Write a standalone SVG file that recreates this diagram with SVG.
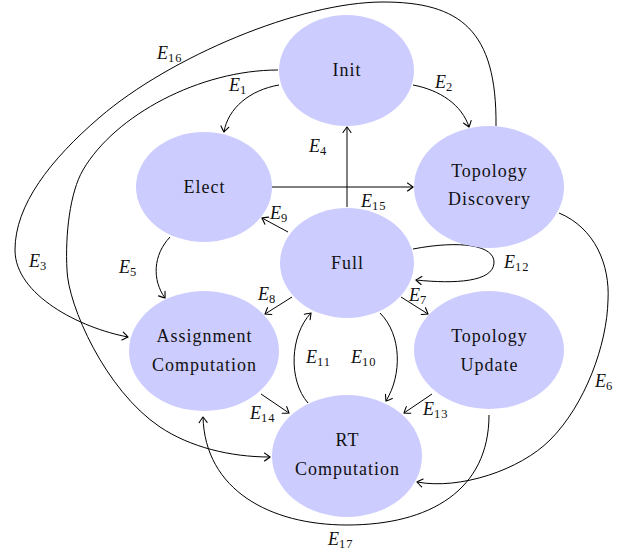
<svg xmlns="http://www.w3.org/2000/svg" width="635" height="555" viewBox="0 0 635 555">
<defs>
<marker id="arr" viewBox="-8 -6 10 12" markerWidth="10" markerHeight="12" refX="0" refY="0" orient="auto" markerUnits="userSpaceOnUse" overflow="visible">
<path d="M-5.5,-4 Q-1.2,-1 0,0 Q-1.2,1 -5.5,4" fill="none" stroke="#000" stroke-width="1.1" stroke-linecap="round"/>
</marker>
<style>
.node{fill:#ccccff;stroke:none}
.nt{font-size:18px;letter-spacing:1px;text-anchor:middle;fill:#111}
.e{fill:none;stroke:#000;stroke-width:1}
.ea{fill:none;stroke:#000;stroke-width:1;marker-end:url(#arr)}
.lbl{font-size:18px;font-style:italic;fill:#111}
.sub{font-size:12.5px;font-style:normal;letter-spacing:1px}
</style>
</defs>
<rect width="635" height="555" fill="#fff"/>
<g id="connectors" font-family="'Liberation Serif', 'DejaVu Serif', serif">
<path id="E1" class="ea" d="M279,85 C250,90 228,108 224,132"/>
<path id="E2" class="ea" d="M413,85 C440,90 462,105 469,127"/>
<path id="E3" class="ea" d="M278,70 C200,70 115,115 83,170 C70,192 65,235 67,270 C68,305 105,390 160,427 C190,447 230,457 270,457"/>
<path id="E4" class="ea" d="M347,207 L347,127"/>
<path id="E5" class="ea" d="M170,237 C153,255 152,280 165,298"/>
<path id="E6" class="ea" d="M559,213 C595,228 610,265 608,300 C607,345 585,405 550,440 C520,470 460,490 417,482"/>
<path id="E7" class="ea" d="M401,297 L428,314"/>
<path id="E8" class="ea" d="M292,297 L265,314"/>
<path id="E9" class="ea" d="M288,232 L262,218"/>
<path id="E10" class="ea" d="M380,313 C402,335 402,375 386,401"/>
<path id="E11" class="ea" d="M308,403 C288,380 290,335 311,313"/>
<path id="E12" class="ea" d="M413,249 C460,240 495,245 494,263 C493,282 455,284 416,280"/>
<path id="E13" class="ea" d="M432,394 L404,413"/>
<path id="E14" class="ea" d="M261,394 L289,413"/>
<path id="E15" class="ea" d="M272,187 L413,187"/>
<path id="E16" class="ea" d="M496,126 C497,30 460,2 383,2 C300,2 170,57 100,117 C50,160 15,205 15,250 C15,295 80,328 128,337"/>
<path id="E17" class="ea" d="M489,415 C489,490 430,525 347,525 C270,525 205,490 203,417"/>
<g id="edge-labels">
<text class="lbl" x="229" y="91">E<tspan class="sub" dy="3">1</tspan></text>
<text class="lbl" x="435" y="88">E<tspan class="sub" dy="3">2</tspan></text>
<text class="lbl" x="29" y="267">E<tspan class="sub" dy="3">3</tspan></text>
<text class="lbl" x="309" y="152">E<tspan class="sub" dy="3">4</tspan></text>
<text class="lbl" x="119" y="273">E<tspan class="sub" dy="3">5</tspan></text>
<text class="lbl" x="595" y="387">E<tspan class="sub" dy="3">6</tspan></text>
<text class="lbl" x="409" y="301">E<tspan class="sub" dy="3">7</tspan></text>
<text class="lbl" x="258" y="300">E<tspan class="sub" dy="3">8</tspan></text>
<text class="lbl" x="270" y="219">E<tspan class="sub" dy="3">9</tspan></text>
<text class="lbl" x="351" y="363">E<tspan class="sub" dy="3">10</tspan></text>
<text class="lbl" x="306" y="363">E<tspan class="sub" dy="3">11</tspan></text>
<text class="lbl" x="504" y="268">E<tspan class="sub" dy="3">12</tspan></text>
<text class="lbl" x="423" y="415">E<tspan class="sub" dy="3">13</tspan></text>
<text class="lbl" x="250" y="419">E<tspan class="sub" dy="3">14</tspan></text>
<text class="lbl" x="361" y="207">E<tspan class="sub" dy="3">15</tspan></text>
<text class="lbl" x="157" y="59">E<tspan class="sub" dy="3">16</tspan></text>
<text class="lbl" x="328" y="545">E<tspan class="sub" dy="3">17</tspan></text>
</g>
</g>
<g id="nodes" font-family="'Liberation Serif', 'DejaVu Serif', serif">
<g id="init"><ellipse class="node" cx="346.5" cy="70.5" rx="67.5" ry="55.5"/><text class="nt" x="347" y="76">Init</text></g>
<g id="elect"><ellipse class="node" cx="204" cy="187" rx="68" ry="55"/><text class="nt" x="204.5" y="193">Elect</text></g>
<g id="topology-discovery"><ellipse class="node" cx="489" cy="187" rx="75" ry="61"/><text class="nt" x="489.5" y="177">Topology</text><text class="nt" x="489.5" y="205">Discovery</text></g>
<g id="full"><ellipse class="node" cx="347" cy="263" rx="67" ry="55"/><text class="nt" x="347.5" y="269">Full</text></g>
<g id="assignment-computation"><ellipse class="node" cx="204" cy="351" rx="75" ry="60"/><text class="nt" x="204.5" y="342">Assignment</text><text class="nt" x="204.5" y="371">Computation</text></g>
<g id="topology-update"><ellipse class="node" cx="489" cy="350" rx="75" ry="59"/><text class="nt" x="489.5" y="342">Topology</text><text class="nt" x="489.5" y="371">Update</text></g>
<g id="rt-computation"><ellipse class="node" cx="347" cy="456" rx="75" ry="61"/><text class="nt" x="347.5" y="446">RT</text><text class="nt" x="347.5" y="475">Computation</text></g>
</g>
</svg>
